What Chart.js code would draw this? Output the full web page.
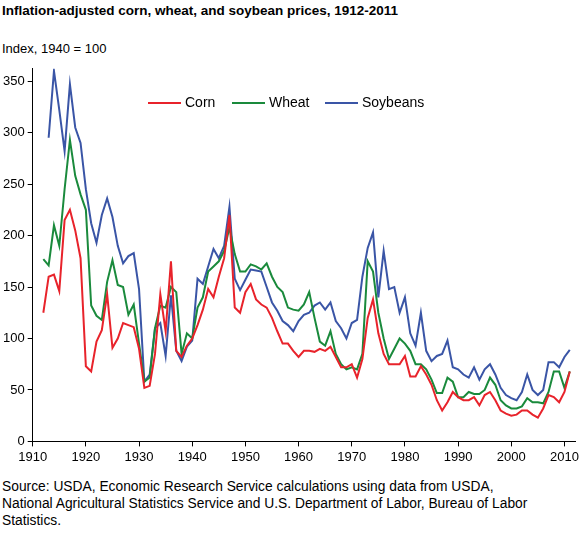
<!DOCTYPE html>
<html><head><meta charset="utf-8">
<script src="https://cdn.jsdelivr.net/npm/chart.js@4"></script>
<style>
body{margin:0;width:582px;height:545px;font-family:Arial,"Liberation Sans",sans-serif;color:#000;background:#fff;position:relative}
#t{position:absolute;left:2px;top:3px;font-weight:bold;font-size:13.5px}
#u{position:absolute;left:2px;top:41px;font-size:13px}
#c{position:absolute;left:0;top:58px;width:582px;height:410px}
#s{position:absolute;left:2px;top:478px;font-size:13.8px;line-height:17px;width:535px}
</style></head><body>
<div id="t">Inflation-adjusted corn, wheat, and soybean prices, 1912-2011</div>
<div id="u">Index, 1940 = 100</div>
<div id="c"><canvas id="cv"></canvas></div>
<div id="s">Source: USDA, Economic Research Service calculations using data from USDA, National Agricultural Statistics Service and U.S. Department of Labor, Bureau of Labor Statistics.</div>
<script>
const years=[];for(let y=1912;y<=2011;y++)years.push(y);
const corn=[125,160,162,146,215,225,205,178,73,68,97,108,143,91,100,115,113,111,90,52,54,85,143,107,175,88,82,93,100,113,128,148,140,160,178,220,130,125,145,153,138,133,130,120,107,95,95,88,82,88,88,87,90,88,92,82,72,72,75,62,80,120,138,105,85,75,75,75,83,63,63,73,65,55,40,30,38,48,43,40,40,43,35,45,48,40,30,27,25,26,30,30,26,23,32,45,43,38,48,68];
const wheat=[177,171,210,190,245,293,258,240,225,132,122,118,155,176,152,150,123,133,95,58,62,110,132,130,150,145,85,105,100,130,140,165,170,175,185,208,182,165,165,172,170,167,173,160,150,145,130,128,127,133,145,120,97,93,107,85,75,70,72,70,85,175,165,125,100,80,90,100,95,88,75,75,70,60,47,47,62,58,43,43,48,46,46,50,62,55,40,35,32,32,34,42,38,38,37,48,68,68,52,68];
const soybeans=[null,295,360,322,282,347,305,290,245,212,193,220,236,218,190,173,180,183,148,58,65,110,115,83,142,88,78,92,98,158,153,170,187,178,190,228,158,147,157,167,166,165,150,135,127,117,113,107,117,123,125,132,135,128,135,117,110,100,115,118,160,188,203,140,185,148,150,125,140,105,93,125,88,78,83,85,98,72,70,65,62,72,60,70,75,65,52,45,42,40,48,65,50,45,50,77,77,72,82,89];
const xTicks=[1910,1920,1930,1940,1950,1960,1970,1980,1990,2000,2010];
const yTicks=[0,50,100,150,200,250,300,350];
const names=['Corn','Wheat','Soybeans'], cols=['#e8232b','#1a8a3c','#3a55a6'];
const mk=(d,i)=>({label:names[i],data:d.map((v,k)=>({x:years[k],y:v})),borderColor:cols[i],borderWidth:2,pointRadius:0,tension:0,spanGaps:false});
const legendPlugin={id:'lg',afterDraw(ch){const c=ch.ctx;c.save();c.font='14px Arial, "Liberation Sans"';c.textBaseline='middle';
const pos=[148,232,325];const y=45;
names.forEach((n,i)=>{c.strokeStyle=cols[i];c.lineWidth=2;c.beginPath();c.moveTo(pos[i],y);c.lineTo(pos[i]+33,y);c.stroke();c.fillStyle='#000';c.fillText(n,pos[i]+37,y);});c.restore();}};
new Chart(document.getElementById('cv'),{type:'line',data:{datasets:[mk(corn,0),mk(wheat,1),mk(soybeans,2)]},
options:{responsive:true,maintainAspectRatio:false,animation:false,layout:{padding:{right:4,top:2}},
plugins:{legend:{display:false},tooltip:{enabled:false}},
scales:{x:{type:'linear',min:1910,max:2012,afterBuildTicks:a=>{a.ticks=xTicks.map(v=>({value:v}))},
grid:{drawOnChartArea:false,drawTicks:true,tickLength:5,color:'#000'},border:{color:'#000'},
ticks:{color:'#000',font:{size:13,family:'Arial, "Liberation Sans"'},maxRotation:0,callback:v=>v}},
y:{min:0,max:362,afterBuildTicks:a=>{a.ticks=yTicks.map(v=>({value:v}))},
grid:{drawOnChartArea:false,drawTicks:true,tickLength:5,color:'#000'},border:{color:'#000'},
ticks:{color:'#000',font:{size:13,family:'Arial, "Liberation Sans"'}}}}},plugins:[legendPlugin]});
</script></body></html>
